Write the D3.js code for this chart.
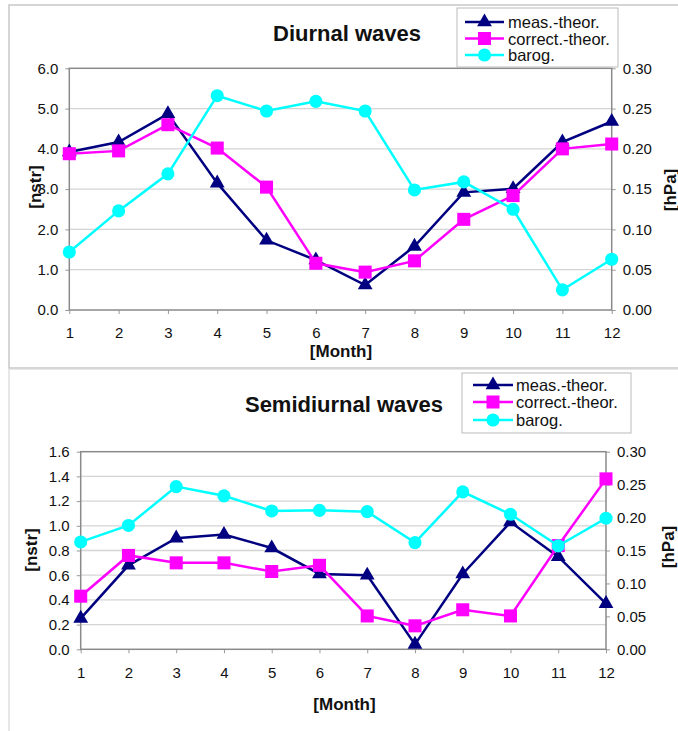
<!DOCTYPE html>
<html>
<head>
<meta charset="utf-8">
<script src="https://cdn.jsdelivr.net/npm/d3@7/dist/d3.min.js"></script>
<style>
body { margin: 0; background: #fff; }
svg text { font-family: "Liberation Sans", Arial, sans-serif; fill: #111; }
</style>
</head>
<body>
<svg id="chart" width="678" height="731"></svg>
<script>
// data
var months = [1, 2, 3, 4, 5, 6, 7, 8, 9, 10, 11, 12];
var seriesNames = ['meas.-theor.', 'correct.-theor.', 'barog.'];

var diurnalMeas    = [3.92, 4.17, 4.87, 3.15, 1.73, 1.24, 0.62, 1.58, 2.92, 3.01, 4.17, 4.68];
var diurnalCorrect = [3.88, 3.95, 4.60, 4.02, 3.05, 1.16, 0.94, 1.22, 2.25, 2.84, 4.00, 4.12];
var diurnalBarog   = [0.072, 0.123, 0.169, 0.266, 0.247, 0.259, 0.247, 0.149, 0.159, 0.125, 0.025, 0.063];

var semiMeas    = [0.25, 0.68, 0.90, 0.93, 0.82, 0.61, 0.60, 0.04, 0.61, 1.03, 0.75, 0.37];
var semiCorrect = [0.43, 0.76, 0.70, 0.70, 0.63, 0.68, 0.27, 0.19, 0.32, 0.27, 0.84, 1.38];
var semiBarog   = [0.163, 0.188, 0.247, 0.233, 0.210, 0.211, 0.209, 0.162, 0.239, 0.205, 0.157, 0.199];

var diurnalLeftTicks = [0, 1, 2, 3, 4, 5, 6];
var semiLeftTicks = [0, 0.2, 0.4, 0.6, 0.8, 1.0, 1.2, 1.4, 1.6];
var hpaTicks = [0, 0.05, 0.10, 0.15, 0.20, 0.25, 0.30];

var colors = ['#000080', '#ff00ff', '#00ffff'];
var shapes = [d3.symbolTriangle, d3.symbolSquare, d3.symbolCircle];
var shapeSizes = [95, 170, 135];

var svg = d3.select('#chart');

// panel frames
svg.append('rect').attr('x', 9).attr('y', 5).attr('width', 700).attr('height', 363)
    .attr('fill', 'none').attr('stroke', '#c8c8c8').attr('stroke-width', 1.5);
svg.append('rect').attr('x', 9).attr('y', 369).attr('width', 700).attr('height', 400)
    .attr('fill', 'none').attr('stroke', '#d8d8d8').attr('stroke-width', 1.2);

function drawPanel(p) {
    var g = svg.append('g');
    var x = d3.scaleLinear().domain([1, 12]).range([p.left, p.right]);
    var yL = d3.scaleLinear().domain(p.leftDomain).range([p.bottom, p.top]);
    var yR = d3.scaleLinear().domain([0, 0.3]).range([p.bottom, p.top]);

    // gridlines
    g.append('g').selectAll('line').data(p.leftTicks.slice(1, -1)).enter()
        .append('line')
        .attr('x1', p.left).attr('x2', p.right)
        .attr('y1', function(d) { return yL(d) }).attr('y2', function(d) { return yL(d) })
        .attr('stroke', '#d4d4d4').attr('stroke-width', 1.3);

    // axes
    var ax = g.append('g').attr('transform', 'translate(0,' + p.bottom + ')')
        .call(d3.axisBottom(x).tickValues(months).tickSize(4).tickPadding(p.xPad));
    var al = g.append('g').attr('transform', 'translate(' + p.left + ',0)')
        .call(d3.axisLeft(yL).tickValues(p.leftTicks).tickFormat(d3.format('.1f')).tickSize(4).tickPadding(7));
    var ar = g.append('g').attr('transform', 'translate(' + p.right + ',0)')
        .call(d3.axisRight(yR).tickValues(hpaTicks).tickFormat(d3.format('.2f')).tickSize(4).tickPadding(7));
    [ax, al, ar].forEach(function(a) {
        a.select('.domain').remove();
        a.selectAll('line').attr('stroke', '#999');
        a.selectAll('text').style('font-size', '15px').attr('fill', '#222');
    });

    // plot border
    g.append('rect').attr('x', p.left).attr('y', p.top)
        .attr('width', p.right - p.left).attr('height', p.bottom - p.top)
        .attr('fill', 'none').attr('stroke', '#8a8a8a').attr('stroke-width', 1.5);

    // series
    var ys = [yL, yL, yR];
    p.series.forEach(function(vals, i) {
        var line = d3.line().x(function(d, j) { return x(months[j]) }).y(function(d) { return ys[i](d) });
        g.append('path').datum(vals).attr('d', line)
            .attr('fill', 'none').attr('stroke', colors[i]).attr('stroke-width', 2.5);
        g.append('g').selectAll('path').data(vals).enter().append('path')
            .attr('d', d3.symbol().type(shapes[i]).size(shapeSizes[i]))
            .attr('transform', function(d, j) { return 'translate(' + x(months[j]) + ',' + ys[i](d) + ')' })
            .attr('fill', colors[i]);
    });

    // title
    g.append('text').attr('x', p.titleX).attr('y', p.titleY).attr('text-anchor', 'middle')
        .style('font-size', '22px').style('font-weight', 'bold').text(p.title);

    // axis titles
    g.append('text').attr('x', p.monthX).attr('y', p.monthY).attr('text-anchor', 'middle')
        .style('font-size', '17px').style('font-weight', 'bold').text('[Month]');
    g.append('text').attr('transform', 'translate(' + p.nstrX + ',' + p.nstrY + ') rotate(-90)')
        .attr('text-anchor', 'middle').attr('dominant-baseline', 'central')
        .style('font-size', '17px').style('font-weight', 'bold').text('[nstr]');
    g.append('text').attr('transform', 'translate(' + p.hpaX + ',' + p.hpaY + ') rotate(-90)')
        .attr('text-anchor', 'middle').attr('dominant-baseline', 'central')
        .style('font-size', '17px').style('font-weight', 'bold').text('[hPa]');

    // legend
    var lg = g.append('g');
    lg.append('rect').attr('x', p.legX).attr('y', p.legY).attr('width', p.legW).attr('height', p.legH)
        .attr('fill', '#fff').attr('stroke', '#bbb').attr('stroke-width', 1);
    seriesNames.forEach(function(name, i) {
        var cy = p.legRows[i];
        lg.append('line').attr('x1', p.sampleX0).attr('x2', p.sampleX1).attr('y1', cy).attr('y2', cy)
            .attr('stroke', colors[i]).attr('stroke-width', 2.5);
        lg.append('path').attr('d', d3.symbol().type(shapes[i]).size(shapeSizes[i]))
            .attr('transform', 'translate(' + (p.sampleX0 + p.sampleX1) / 2 + ',' + cy + ')')
            .attr('fill', colors[i]);
        lg.append('text').attr('x', p.legTextX).attr('y', cy).attr('dominant-baseline', 'central')
            .style('font-size', '16.5px').text(name);
    });
}

drawPanel({
    title: 'Diurnal waves', titleX: 347, titleY: 41,
    left: 69.3, right: 611.7, top: 68.3, bottom: 310, xPad: 13,
    leftDomain: [0, 6], leftTicks: diurnalLeftTicks,
    series: [diurnalMeas, diurnalCorrect, diurnalBarog],
    monthX: 341, monthY: 357, nstrX: 35, nstrY: 187, hpaX: 670, hpaY: 190,
    legX: 457, legY: 8, legW: 161, legH: 59, legRows: [22, 38.5, 55],
    sampleX0: 465, sampleX1: 504, legTextX: 508
});

drawPanel({
    title: 'Semidiurnal waves', titleX: 344, titleY: 412,
    left: 80.7, right: 606, top: 451.7, bottom: 649.3, xPad: 14,
    leftDomain: [0, 1.6], leftTicks: semiLeftTicks,
    series: [semiMeas, semiCorrect, semiBarog],
    monthX: 344.5, monthY: 710, nstrX: 31, nstrY: 550, hpaX: 668, hpaY: 547,
    legX: 462, legY: 373, legW: 169, legH: 60, legRows: [385, 402, 420],
    sampleX0: 473, sampleX1: 513, legTextX: 516
});
</script>
</body>
</html>
